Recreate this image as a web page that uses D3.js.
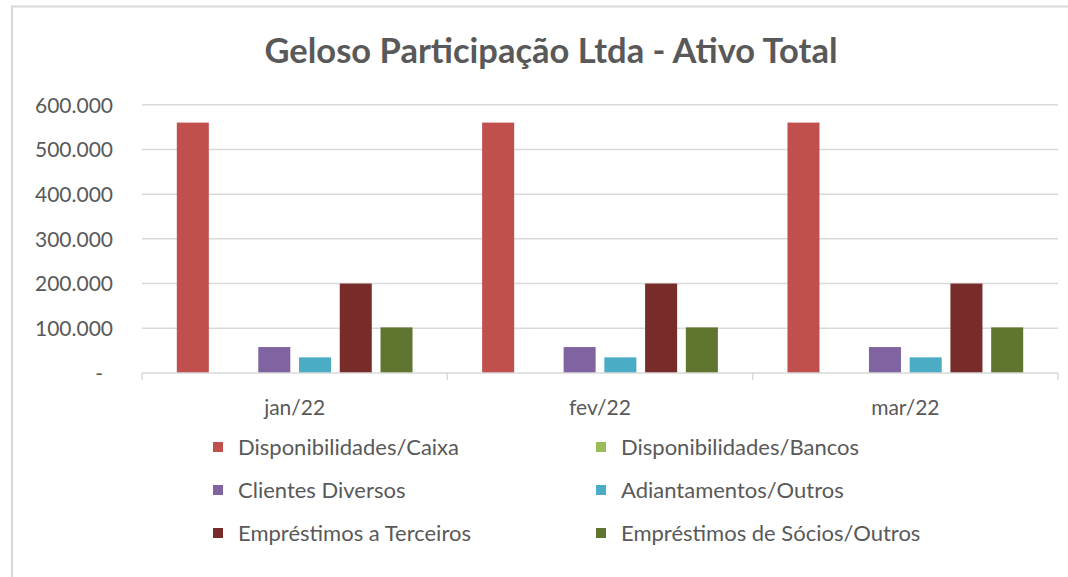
<!DOCTYPE html>
<html>
<head>
<meta charset="utf-8">
<script src="https://cdn.jsdelivr.net/npm/d3@7"></script>
<style>
  html, body { margin: 0; padding: 0; background: #fff; }
  svg { display: block; font-family: Lato, "Open Sans", sans-serif; }
</style>
</head>
<body>
<svg id="chart" width="1068" height="577"></svg>
<script>
const categories = ["jan/22", "fev/22", "mar/22"];
const seriesNames = [
  "Disponibilidades/Caixa",
  "Disponibilidades/Bancos",
  "Clientes Diversos",
  "Adiantamentos/Outros",
  "Empréstimos a Terceiros",
  "Empréstimos de Sócios/Outros"
];
const caixa = [560000, 560000, 560000];
const bancos = [0, 0, 0];
const clientes = [58000, 58000, 58000];
const adiantamentos = [35000, 35000, 35000];
const emprestTerceiros = [200000, 200000, 200000];
const emprestSocios = [102000, 102000, 102000];
const yTicks = [0, 100000, 200000, 300000, 400000, 500000, 600000];
const yTickLabels = ["-", "100.000", "200.000", "300.000", "400.000", "500.000", "600.000"];
const colors = ["#C0504D", "#9BBB59", "#8064A2", "#4BACC6", "#772C2A", "#5F7530"];
const title = "Geloso Participação Ltda - Ativo Total";

const seriesValues = [caixa, bancos, clientes, adiantamentos, emprestTerceiros, emprestSocios];
const table = categories.map((c, i) => {
  const row = { category: c };
  seriesNames.forEach((s, j) => row[s] = seriesValues[j][i]);
  return row;
});

const svg = d3.select("#chart");
const textColor = "#595959";
const gridColor = "#d9d9d9";

// chart border
svg.append("rect")
  .attr("x", 12).attr("y", 6.5)
  .attr("width", 1200).attr("height", 700)
  .attr("fill", "none").attr("stroke", gridColor).attr("stroke-width", 2);

const plot = { left: 142, right: 1058, top: 104.7, bottom: 373 };

const x0 = d3.scaleBand().domain(categories)
  .range([plot.left, plot.right])
  .paddingInner(0.228).paddingOuter(0.114);
const x1 = d3.scaleBand().domain(seriesNames)
  .range([0, x0.bandwidth()])
  .paddingInner(0.214).paddingOuter(0);
const y = d3.scaleLinear().domain([0, 600000]).range([plot.bottom, plot.top]);

// gridlines
svg.append("g").selectAll("line")
  .data(yTicks.filter(d => d > 0))
  .join("line")
  .attr("x1", plot.left).attr("x2", plot.right)
  .attr("y1", d => y(d)).attr("y2", d => y(d))
  .attr("stroke", gridColor).attr("stroke-width", 1.5);

// y axis labels
const yAxis = d3.axisLeft(y).tickValues(yTicks)
  .tickFormat((d, i) => yTickLabels[i]).tickSize(0).tickPadding(0);
const yg = svg.append("g").attr("transform", `translate(113,0)`).call(yAxis);
yg.select(".domain").remove();
yg.selectAll("text")
  .attr("fill", textColor)
  .style("font-size", "21px")
  .style("font-family", "Lato, sans-serif")
  .attr("dy", "0.35em")
  .attr("dx", (d) => d === 0 ? -10 : 0);

// bars
svg.append("g").selectAll("g")
  .data(table)
  .join("g")
  .attr("transform", d => `translate(${x0(d.category)},0)`)
  .selectAll("rect")
  .data(d => seriesNames.map((s, j) => ({ key: s, value: d[s], color: colors[j] })))
  .join("rect")
  .attr("x", d => x1(d.key))
  .attr("width", x1.bandwidth())
  .attr("y", d => y(d.value))
  .attr("height", d => y(0) - y(d.value))
  .attr("fill", d => d.color);

// x axis
const xAxisG = svg.append("g");
xAxisG.append("line")
  .attr("x1", plot.left).attr("x2", plot.right)
  .attr("y1", plot.bottom).attr("y2", plot.bottom)
  .attr("stroke", gridColor).attr("stroke-width", 1.5);
const boundaries = categories.map(c => x0(c) - x0.step() * x0.paddingInner() / 2)
  .concat([plot.right]);
xAxisG.selectAll("line.tick")
  .data(boundaries)
  .join("line").attr("class", "tick")
  .attr("x1", d => d).attr("x2", d => d)
  .attr("y1", plot.bottom).attr("y2", plot.bottom + 7)
  .attr("stroke", gridColor).attr("stroke-width", 1.5);
xAxisG.selectAll("text")
  .data(categories)
  .join("text")
  .attr("x", d => x0(d) + x0.bandwidth() / 2)
  .attr("y", 408)
  .attr("dy", "0.35em")
  .attr("text-anchor", "middle")
  .attr("fill", textColor)
  .style("font-size", "21px")
  .text(d => d);

// title
svg.append("text")
  .attr("x", 551).attr("y", 51)
  .attr("dy", "0.35em")
  .attr("text-anchor", "middle")
  .attr("fill", textColor)
  .style("font-size", "34.5px")
  .style("font-weight", "bold")
  .text(title);

// legend
const legendCols = [213, 596];
const legendRows = [447, 490, 533];
const lg = svg.append("g").selectAll("g")
  .data(seriesNames)
  .join("g")
  .attr("transform", (d, i) => `translate(${legendCols[i % 2]},${legendRows[Math.floor(i / 2)]})`);
lg.append("rect")
  .attr("x", 0).attr("y", -5).attr("width", 10).attr("height", 10)
  .attr("fill", (d, i) => colors[i]);
lg.append("text")
  .attr("x", 25).attr("y", 0).attr("dy", "0.35em")
  .attr("fill", textColor)
  .style("font-size", "22px")
  .text(d => d);
</script>
</body>
</html>
